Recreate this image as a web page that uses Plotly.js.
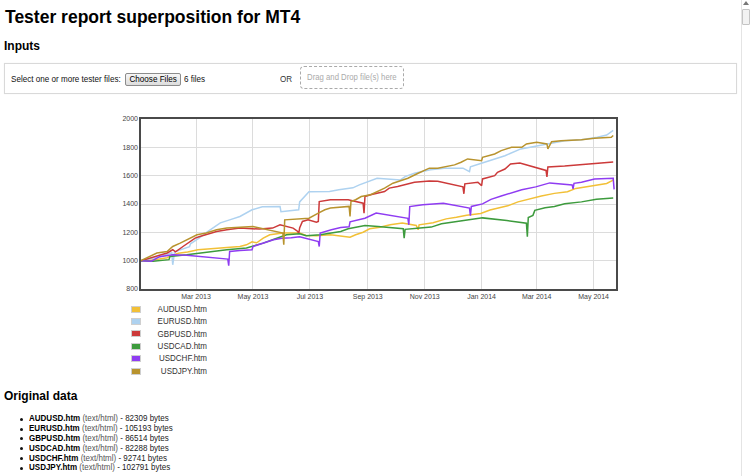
<!DOCTYPE html>
<html>
<head>
<meta charset="utf-8">
<script src="https://cdn.plot.ly/plotly-3.0.1.min.js"></script>
<style>
html,body{margin:0;padding:0;background:#fff;width:750px;height:476px;overflow:hidden;
  font-family:"Liberation Sans",Arial,Helvetica,sans-serif;color:#000;}
#page{position:relative;width:750px;height:476px;}
.abs{position:absolute;white-space:nowrap;}
#title{left:5px;top:8.7px;font-size:17.5px;line-height:17.5px;font-weight:bold;}
.h2{font-size:12px;line-height:12px;font-weight:bold;}
#inbox{left:4px;top:63px;width:731px;height:29px;border:1px solid #d9d9d9;box-shadow:0 0 1px #eee;}
.small{font-size:9.3px;line-height:9.3px;color:#111;transform:scaleX(0.87);transform-origin:left top;}
#btn{left:125px;top:72.5px;width:54px;height:11px;border:1px solid #8c8c8c;border-radius:2px;
  background:linear-gradient(#f7f7f7,#dcdcdc);text-align:center;font-size:9.3px;line-height:11px;}
#btn span{display:inline-block;transform:scaleX(0.87);}
#drop{left:300px;top:66px;width:102px;height:21px;border:1.5px dashed #aaa;border-radius:4px;
  text-align:center;font-size:8.8px;line-height:21px;color:#aaa;}
#drop span{display:inline-block;transform:scaleX(0.88);}
#chart{position:absolute;left:100px;top:105px;width:540px;height:200px;}
.sq{position:absolute;width:8px;height:5px;border:1px solid #cfcfcf;}
.lg{font-size:9px;line-height:9px;color:#333;text-align:right;width:80px;transform:scaleX(0.89);transform-origin:right top;}
.li{font-size:9px;line-height:9px;color:#222;transform:scaleX(0.89);transform-origin:left top;}
.li b{color:#000;}
.li .mime{color:#555;}
.dot{position:absolute;width:3px;height:3px;border-radius:50%;background:#111;}
#scroll{left:741px;top:0;width:9px;height:476px;background:#fff;border-left:1px solid #e4e4e4;}
#thumb{left:742px;top:9px;width:6px;height:14px;border:1px solid #c4c4c4;background:#f2f2f2;border-radius:1px;}
#arrow{left:743px;top:1px;width:0;height:0;border-left:3px solid transparent;border-right:3px solid transparent;border-bottom:4px solid #777;}
</style>
</head>
<body>
<div id="page">
  <div id="title" class="abs">Tester report superposition for MT4</div>
  <div class="abs h2" style="left:4px;top:39.8px;">Inputs</div>
  <div id="inbox" class="abs"></div>
  <div class="abs small" style="left:10.5px;top:74.6px;">Select one or more tester files:</div>
  <div id="btn" class="abs"><span>Choose Files</span></div>
  <div class="abs small" style="left:184px;top:74.6px;">6 files</div>
  <div class="abs small" style="left:280px;top:74.6px;color:#333;">OR</div>
  <div id="drop" class="abs"><span>Drag and Drop file(s) here</span></div>
  <div id="chart"></div>
  <div id="legend"></div>
  <div class="abs h2" style="left:4px;top:389.8px;">Original data</div>
  <div id="files"></div>
  <div id="scroll" class="abs"></div>
  <div id="arrow" class="abs"></div>
  <div id="thumb" class="abs"></div>
</div>
<script>
// ---------------- data ----------------
const seriesNames = ['AUDUSD.htm','EURUSD.htm','GBPUSD.htm','USDCAD.htm','USDCHF.htm','USDJPY.htm'];
const fileSizes = [82309, 105193, 86514, 82288, 92741, 102791];
const fileType = 'text/html';

const tickDates = ['2013-03-01','2013-05-01','2013-07-01','2013-09-01','2013-11-01','2014-01-01','2014-03-01','2014-05-01'];
const tickLabels = ['Mar 2013','May 2013','Jul 2013','Sep 2013','Nov 2013','Jan 2014','Mar 2014','May 2014'];
const yTicks = [800,1000,1200,1400,1600,1800,2000];

const audDates = ['2013-01-01','2013-01-16','2013-01-29','2013-02-02','2013-02-10','2013-02-20','2013-03-03','2013-03-16','2013-04-03','2013-04-17','2013-04-24','2013-04-30','2013-05-05','2013-05-12','2013-05-19','2013-06-02','2013-06-20','2013-06-27','2013-07-08','2013-07-23','2013-08-13','2013-08-19','2013-08-27','2013-09-03','2013-09-14','2013-09-25','2013-10-08','2013-10-23','2013-10-25','2013-10-26','2013-11-10','2013-11-24','2013-12-05','2013-12-16','2013-12-31','2014-01-10','2014-01-20','2014-01-29','2014-02-09','2014-02-19','2014-03-06','2014-03-20','2014-04-03','2014-04-12','2014-04-24','2014-05-05','2014-05-15','2014-05-22'];
const audValues = [1000,1007,1021,1035,1052,1061,1077,1084,1096,1100,1112,1133,1126,1159,1183,1195,1195,1178,1176,1183,1165,1183,1201,1225,1236,1253,1265,1248,1218,1253,1267,1295,1306,1321,1333,1357,1373,1387,1415,1433,1457,1475,1486,1510,1521,1533,1545,1568];

const eurDates = ['2013-01-01','2013-01-21','2013-02-03','2013-02-04','2013-02-06','2013-02-22','2013-02-23','2013-03-05','2013-03-13','2013-03-27','2013-04-06','2013-04-17','2013-04-30','2013-05-11','2013-05-30','2013-05-31','2013-06-19','2013-06-20','2013-06-30','2013-07-22','2013-08-01','2013-08-16','2013-08-23','2013-09-01','2013-09-11','2013-10-06','2013-10-11','2013-10-21','2013-11-07','2013-11-22','2013-12-12','2013-12-19','2013-12-20','2014-01-05','2014-01-26','2014-02-12','2014-03-02','2014-03-17','2014-03-31','2014-04-18','2014-05-05','2014-05-15','2014-05-22'];
const eurValues = [1000,1028,1056,971,1063,1098,1119,1162,1204,1267,1288,1312,1359,1380,1382,1345,1359,1415,1486,1488,1500,1514,1535,1558,1582,1570,1593,1617,1641,1653,1653,1629,1662,1697,1741,1789,1812,1831,1847,1854,1871,1887,1919];

const gbpDates = ['2013-01-01','2013-01-11','2013-01-21','2013-01-29','2013-02-04','2013-02-07','2013-02-15','2013-02-22','2013-02-28','2013-03-05','2013-03-12','2013-03-23','2013-04-03','2013-04-17','2013-05-08','2013-05-22','2013-05-30','2013-06-13','2013-06-18','2013-06-19','2013-06-20','2013-06-23','2013-06-29','2013-07-08','2013-07-10','2013-07-11','2013-07-23','2013-08-11','2013-08-27','2013-08-28','2013-08-29','2013-09-04','2013-09-19','2013-09-24','2013-10-03','2013-10-10','2013-10-21','2013-11-06','2013-11-15','2013-12-12','2013-12-13','2013-12-14','2013-12-28','2014-01-01','2014-01-02','2014-01-15','2014-01-18','2014-01-26','2014-02-01','2014-02-11','2014-03-11','2014-03-12','2014-03-13','2014-03-31','2014-04-18','2014-05-05','2014-05-22'];
const gbpValues = [1000,1020,1042,1054,1077,1063,1100,1135,1159,1171,1183,1206,1218,1230,1223,1230,1253,1230,1206,1190,1230,1277,1288,1272,1277,1417,1430,1430,1406,1335,1453,1465,1488,1512,1524,1535,1553,1563,1560,1521,1472,1542,1554,1530,1577,1600,1624,1647,1683,1690,1637,1591,1662,1669,1679,1686,1697];

const cadDates = ['2013-01-01','2013-01-14','2013-01-31','2013-02-01','2013-02-19','2013-03-05','2013-03-19','2013-04-03','2013-04-24','2013-04-30','2013-05-12','2013-05-22','2013-06-06','2013-06-20','2013-06-27','2013-07-12','2013-07-26','2013-08-03','2013-08-11','2013-08-29','2013-09-12','2013-10-03','2013-10-09','2013-10-10','2013-10-11','2013-10-27','2013-11-08','2013-11-19','2013-12-03','2013-12-18','2014-01-02','2014-01-28','2014-02-18','2014-02-19','2014-02-20','2014-02-25','2014-02-27','2014-03-10','2014-03-20','2014-03-31','2014-04-18','2014-05-04','2014-05-15','2014-05-22'];
const cadValues = [1000,996,1007,1030,1042,1054,1065,1077,1089,1100,1124,1148,1183,1190,1176,1183,1195,1206,1225,1248,1241,1232,1225,1159,1221,1230,1237,1260,1272,1288,1302,1283,1264,1169,1305,1320,1355,1373,1383,1401,1415,1433,1436,1443];

const chfDates = ['2013-01-01','2013-01-12','2013-01-21','2013-02-04','2013-02-19','2013-03-02','2013-04-04','2013-04-05','2013-04-06','2013-04-17','2013-04-30','2013-05-01','2013-05-12','2013-05-23','2013-06-01','2013-06-11','2013-06-20','2013-07-02','2013-07-10','2013-07-11','2013-07-12','2013-07-24','2013-08-03','2013-08-12','2013-08-13','2013-08-29','2013-09-10','2013-10-14','2013-10-15','2013-10-16','2013-10-30','2013-11-21','2013-12-19','2013-12-20','2013-12-21','2014-01-02','2014-01-11','2014-01-22','2014-02-02','2014-02-13','2014-02-28','2014-03-15','2014-04-08','2014-04-09','2014-04-10','2014-04-18','2014-05-02','2014-05-22','2014-05-23'];
const chfValues = [1000,996,1028,1042,1039,1032,1011,964,1065,1072,1077,1100,1124,1148,1159,1161,1169,1148,1135,1100,1195,1218,1234,1239,1274,1300,1336,1299,1253,1382,1394,1406,1371,1317,1383,1401,1433,1457,1479,1500,1521,1549,1535,1507,1546,1554,1577,1581,1503];

const jpyDates = ['2013-01-01','2013-01-11','2013-01-18','2013-01-29','2013-02-04','2013-02-12','2013-02-20','2013-03-02','2013-03-12','2013-03-23','2013-04-03','2013-04-24','2013-05-01','2013-06-02','2013-06-03','2013-06-04','2013-06-30','2013-07-10','2013-07-17','2013-07-23','2013-08-12','2013-08-13','2013-08-14','2013-08-19','2013-08-25','2013-09-04','2013-09-12','2013-09-19','2013-09-28','2013-10-03','2013-10-14','2013-10-25','2013-11-06','2013-11-15','2013-11-26','2013-12-03','2013-12-10','2013-12-17','2014-01-01','2014-01-02','2014-01-15','2014-01-22','2014-02-02','2014-02-13','2014-02-18','2014-03-01','2014-03-12','2014-03-13','2014-03-17','2014-03-27','2014-04-18','2014-05-02','2014-05-20','2014-05-22'];
const jpyValues = [1000,1030,1054,1065,1100,1124,1152,1183,1195,1218,1230,1241,1241,1195,1112,1288,1300,1336,1359,1371,1383,1312,1417,1430,1453,1465,1488,1512,1547,1558,1582,1617,1653,1653,1664,1676,1695,1718,1706,1730,1753,1777,1800,1800,1824,1836,1824,1789,1840,1847,1854,1864,1871,1884];

// ---------------- styles ----------------
const seriesColors = ['#f2c037','#aed2f0','#cc3a3a','#3d9b3d','#8f3cf2','#b8932e'];
const FONT = '"Liberation Sans", Arial, sans-serif';

const allDates = [audDates, eurDates, gbpDates, cadDates, chfDates, jpyDates];
const allValues = [audValues, eurValues, gbpValues, cadValues, chfValues, jpyValues];

const traces = seriesNames.map((name, i) => ({
  type: 'scatter', mode: 'lines', name: name,
  x: allDates[i], y: allValues[i],
  line: {color: seriesColors[i], width: 1.5},
  hoverinfo: 'skip'
}));

const layout = {
  width: 540, height: 200,
  margin: {l: 41, r: 24, t: 14, b: 16},
  paper_bgcolor: 'rgba(0,0,0,0)', plot_bgcolor: '#ffffff',
  showlegend: false,
  font: {family: FONT, size: 7, color: '#444'},
  xaxis: {
    type: 'date', range: ['2013-01-01', '2014-05-25'],
    tickmode: 'array', tickvals: tickDates, ticktext: tickLabels,
    showgrid: true, gridcolor: '#dcdcdc', gridwidth: 1,
    showline: true, mirror: true, linecolor: '#4a4a4a', linewidth: 1.6,
    ticks: '', zeroline: false, tickfont: {family: FONT, size: 7, color: '#444'}
  },
  yaxis: {
    range: [800, 2000], tickmode: 'array', tickvals: yTicks,
    showgrid: true, gridcolor: '#dcdcdc', gridwidth: 1,
    showline: true, mirror: true, linecolor: '#4a4a4a', linewidth: 1.6,
    ticks: '', zeroline: false, tickfont: {family: FONT, size: 7, color: '#444'}
  }
};

Plotly.newPlot('chart', traces, layout, {staticPlot: true, displayModeBar: false});

// ---------------- legend (HTML) ----------------
const legend = document.getElementById('legend');
seriesNames.forEach((name, i) => {
  const cy = 309.3 + i * 12.34;
  const sq = document.createElement('div');
  sq.className = 'sq';
  sq.style.left = '131px';
  sq.style.top = (cy - 3.5) + 'px';
  sq.style.background = seriesColors[i];
  legend.appendChild(sq);
  const t = document.createElement('div');
  t.className = 'abs lg';
  t.style.left = (207 - 80) + 'px';
  t.style.top = (cy - 4.4) + 'px';
  t.textContent = name;
  legend.appendChild(t);
});

// ---------------- original data list ----------------
const files = document.getElementById('files');
seriesNames.forEach((name, i) => {
  const base = 422 + i * 9.8;
  const d = document.createElement('div');
  d.className = 'dot';
  d.style.left = '20px';
  d.style.top = (base - 4.3) + 'px';
  files.appendChild(d);
  const li = document.createElement('div');
  li.className = 'abs li';
  li.style.left = '29px';
  li.style.top = (base - 7.6) + 'px';
  li.innerHTML = '<b>' + name + '</b> <span class="mime">(' + fileType + ')</span> - ' + fileSizes[i] + ' bytes';
  files.appendChild(li);
});
</script>
</body>
</html>
